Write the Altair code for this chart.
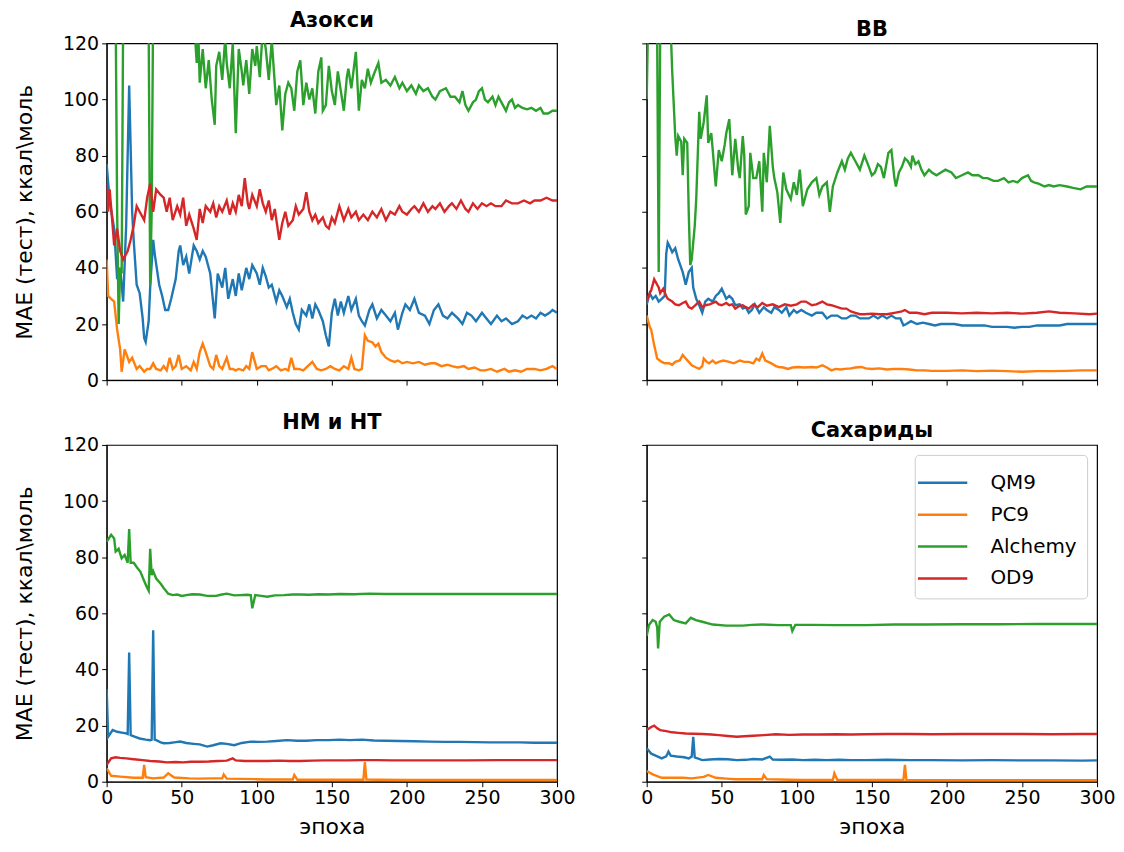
import altair as alt
import pandas as pd

SERIES = ["QM9", "PC9", "Alchemy", "OD9"]
COLORS = ["#1f77b4", "#ff7f0e", "#2ca02c", "#d62728"]
PANELS = ["Азокси", "BB", "НМ и НТ", "Сахариды"]
X_TICKS = [0, 50, 100, 150, 200, 250, 300]
Y_TICKS = [0, 20, 40, 60, 80, 100, 120]
X_TITLE = "эпоха"
Y_TITLE = "MAE (тест), ккал\\моль"

# ---------------- Азокси ----------------
AZ_QM9 = [(0,77),(2,64),(5,54),(7,36),(9,40),(11,28),(13,55),(15,105),(17,60),(18,50),(20,34),(22,31),(24,22),(25,15),(26,13.6),(28,21),(29,33),(31,50),(32,45),(35,34),(37,30),(39,25),(41,25),(43,29),(46,36),(48,46),(49,48),(51,41),(53,44),(55,38),(58,48),(60,46),(62,43),(64,46),(66,44),(69,38),(72,22),(74,38),(77,33),(79,40),(81,29),(84,36),(86,30),(88,38),(90,32),(93,40),(95,36),(97,41),(100,38),(102,34),(104,40),(106,37),(108,33),(110,34),(113,28),(115,32),(117,30),(120,26),(122,29),(124,24),(126,20),(128,18),(130,25),(133,23),(135,27),(137,22),(139,27),(141,25),(144,21),(146,16),(148,12),(150,24),(152,29),(154,23),(156,28),(158,24),(161,30),(163,25),(166,29),(168,23),(170,21),(172,19.5),(175,25),(177,27),(180,22),(183,25),(186,23),(189,21),(192,24),(194,18),(197,24),(199,27),(202,25),(205,29),(208,24),(212,23),(215,20),(218,25),(221,27),(224,23),(227,22),(230,24),(234,22),(237,20),(240,24),(243,23),(246,21),(250,24),(253,22),(256,20),(260,23),(263,21),(266,22),(270,20),(274,21),(277,23),(280,22),(283,23),(286,22),(289,24),(292,23),(295,24),(297,25),(300,24)]
AZ_PC9 = [(0,43),(1,30),(3,29),(5,28),(7,18),(9,11),(10,3),(12,11),(15,6.5),(17,8),(20,4),(22,5),(25,3),(27,4),(29,4),(31,6),(33,4),(36,3.5),(38,5),(40,3.5),(42,8),(44,4),(46,5),(48,9),(50,4),(53,5),(56,3.5),(58,6.5),(60,4),(62,10),(64,13),(66,10),(69,5),(71,4),(73,9),(75,5),(77,4),(80,8),(82,4),(84,4),(86,3.5),(88,4),(91,3.5),(93,5),(95,4),(97,10),(100,4),(103,5),(106,5),(108,3.5),(110,4),(113,5),(116,3.5),(119,4),(121,3.5),(123,8),(125,4),(128,4),(131,3.5),(134,5),(137,6.5),(140,4),(143,3.5),(146,4),(149,5),(152,4),(155,3.5),(158,5),(161,4),(163,8),(165,4),(168,3.5),(170,4),(172,16),(174,14),(177,13.5),(179,12),(181,13),(183,10),(186,8),(189,7),(192,6.5),(194,7),(197,6),(200,6.5),(204,6),(208,6.5),(212,5.5),(216,6),(219,6),(223,5),(227,5.5),(230,5),(234,4.5),(238,5),(241,4),(245,4.5),(249,3.5),(252,3.5),(256,4),(260,3),(265,4),(268,3),(272,3.5),(276,3),(280,4),(285,4),(289,3.5),(293,4),(297,5),(300,4)]
AZ_ALC = [(0,140),(3,135),(6,130),(7,60),(8,20),(9,40),(10,38),(11,130),(14,140),(18,135),(22,140),(26,130),(28,125),(29,34),(30,60),(31,135),(35,140),(40,138),(45,140),(50,135),(55,132),(58,130),(60,113),(61,125),(62,106),(64,118),(66,104),(68,114),(70,100),(72,91),(73,112),(75,117),(77,107),(79,122),(80,113),(82,104),(84,120),(86,88),(88,118),(90,110),(91,105),(93,114),(95,102),(97,118),(99,112),(100,119),(102,108),(104,125),(106,118),(108,107),(110,121),(113,98),(115,105),(117,89),(119,102),(121,106),(123,104),(125,96),(127,110),(129,114),(131,98),(133,106),(135,100),(137,104),(139,95),(141,110),(143,115),(144,96),(146,98),(148,112),(150,103),(152,98),(154,110),(156,103),(158,96),(160,108),(161,111),(163,104),(166,117),(168,96),(170,107),(172,104),(174,111),(176,106),(178,109),(181,113),(183,106),(186,107),(189,105),(192,108),(195,104),(197,106),(200,103),(203,105),(206,102),(208,105),(211,103),(214,104),(217,101),(219,100),(222,103),(226,104),(229,101),(232,101),(235,99),(237,103),(239,98),(241,96),(244,99),(246,100),(248,103),(250,104),(252,100),(254,99),(257,101),(259,98),(261,101),(263,99),(266,96),(268,99),(270,100),(272,97),(274,98),(277,97),(280,96.5),(283,97),(286,96),(289,97),(291,95),(294,95),(297,96),(300,96)]
AZ_OD9 = [(0,70),(1,60),(2,68),(4,55),(5,48),(7,54),(9,46),(11,43),(13,45),(14,46),(16,50),(18,55),(20,62),(22,60),(25,57),(27,65),(29,70),(31,60),(33,68),(36,66),(38,65),(40,60),(42,65),(44,57),(47,62),(49,59),(51,65),(53,55),(55,59),(58,54),(60,50),(62,61),(64,56),(66,62),(69,60),(71,63),(73,58),(75,62),(77,60),(80,64),(82,59),(84,63),(86,60),(88,66),(90,62),(92,72),(94,63),(95,61),(97,66),(100,62),(102,68),(104,63),(106,60),(108,64),(110,57),(112,61),(115,50),(117,56),(119,60),(121,55),(124,57),(126,62),(128,59),(131,61),(133,67),(135,60),(137,57),(139,59),(141,56),(144,58),(146,55),(148,54),(150,58),(152,56),(155,62),(158,57),(161,61),(163,58),(166,60),(168,57),(171,59),(174,57),(177,60),(180,58),(183,61),(186,57),(189,60),(192,59),(195,62),(197,60),(200,59),(203,61),(205,62),(208,60),(211,63),(214,60),(217,62),(219,61),(222,63),(225,60),(228,62),(230,63),(233,61),(236,64),(239,61),(241,60),(244,63),(247,61),(250,63),(253,62),(256,63),(259,62),(263,62),(266,64),(270,63),(274,63),(278,64),(282,63),(285,64),(289,64),(293,65),(297,64),(300,64)]

# ---------------- BB ----------------
BB_QM9 = [(0,27),(2,31),(4,29),(6,30),(8,28),(10,29),(12,30),(13,45),(14,49),(15,48),(17,45.6),(19,47),(21,43),(23,40),(24,38.5),(26,34),(28,38.5),(30,40),(31,33),(33,29),(35,26.7),(37,24),(39,28),(41,29),(44,28),(46,30),(48,31),(50,32.6),(53,29),(55,30),(57,29),(59,26.7),(62,27),(64,25.5),(66,26),(68,24),(70,25),(72,27),(75,24),(78,26),(80,25),(83,24),(85,26),(88,25),(90,24),(93,26),(95,23),(98,25),(100,24),(103,25),(106,24),(110,23),(113,24),(117,24),(120,22),(123,23),(127,23),(130,22),(133,22),(136,23),(139,23),(142,22),(145,22),(148,22),(151,23),(154,22),(157,23),(160,22),(163,23),(166,22),(169,22),(171,19.5),(173,20),(176,21),(180,20),(184,20.5),(188,20),(192,19.5),(196,20),(200,20),(205,20),(210,19.5),(215,19.5),(220,19.5),(225,19.5),(230,19),(235,19),(240,19),(245,18.7),(250,19),(255,19),(260,19.5),(265,19.5),(270,19.5),(275,19.5),(280,20),(285,20),(290,20),(295,20),(300,20)]
BB_PC9 = [(0,23),(2,19),(3,18),(5,12.4),(7,7.7),(10,6.5),(12,6),(15,6),(17,5.5),(19,6.5),(22,7),(24,9),(26,7.7),(28,6.5),(30,5.3),(33,4.5),(35,4),(37,5),(38,7.7),(40,6.5),(41.5,6),(44,7),(46,6),(48,6.5),(51,7),(55,6.5),(58,6),(62,7),(65,6.5),(68,6.5),(71,6),(73,7.7),(75,7),(77,9.5),(79,7),(81,6.5),(83,6),(86,5),(88,4.7),(91,4.5),(94,4),(97,4.5),(101,4.7),(105,4.5),(110,4.7),(113,4.5),(117,5.3),(120,4.5),(123,3.5),(126,4),(129,3.8),(132,4),(136,4.2),(139,4.5),(143,4.7),(146,4.2),(150,4),(155,4.2),(160,3.8),(165,4),(170,4),(175,3.8),(180,3.5),(185,3.5),(190,3.3),(200,3.3),(210,3.5),(220,3.2),(230,3.4),(240,3.2),(250,3),(260,3.2),(270,3.2),(280,3.3),(290,3.5),(300,3.5)]
BB_ALC = [(0,100),(1,130),(3,135),(5,130),(6,125),(7,120),(8,38.5),(9,125),(11,140),(13,135),(15,130),(16,125),(17,110),(19,87),(20,80),(21,87),(22,86),(23,85),(24,73),(25,86),(27,84.5),(28,60),(29,41),(30,43),(32,55),(33,64.5),(35,95.6),(36,86),(38,92),(40,101.5),(41,84.5),(43,88),(44,82),(46,69),(48,82),(50,78),(52,84),(53,88),(55,93),(57,73),(59,86),(61,75),(62,72),(64,87),(65,80),(66,59),(68,62),(69,81),(71,72),(73,72),(75,78),(77,60),(78,81),(80,70.5),(82,90.6),(84,76),(85,72),(87,67),(89,56),(91,74),(93,68),(96,64.5),(98,70.5),(100,66),(102,75),(104,62),(107,68),(110,70.5),(113,72),(115,66),(117,69),(120,70.5),(122,60),(124,69),(127,74),(130,78),(132,75),(134,79),(136,81),(139,78),(142,75),(145,80),(148,76),(150,73),(152,74),(154,77),(156,76),(158,72),(161,81),(163,82),(165,72),(166,69),(168,74),(170,76),(172,79),(174,78),(176,76),(177,80),(179,77),(181,78),(183,75),(185,73),(188,75),(190,74),(193,73),(196,74),(199,75),(203,74),(206,72),(210,73),(214,74),(217,73),(221,73),(224,72),(227,72),(231,71),(234,71),(238,72),(241,70.5),(244,71),(247,70.5),(250,72),(254,73),(256,71),(258,70.5),(261,70),(265,69),(268,69.5),(271,69),(275,69.5),(280,69),(284,68.5),(289,68),(293,69),(298,69),(300,69)]
BB_OD9 = [(0,28),(2,31),(3,32),(5,36),(7,34),(8,33),(9,31),(11,32.6),(13,30),(14,29),(17,28),(19,27),(21.5,26.7),(24,27.5),(26,28),(28,26),(30,25.5),(33,27),(35,28),(37,26),(39,26.7),(42,27),(46,28),(48,27),(50,26.7),(53,27.5),(55,26.7),(57,27),(59,25.5),(62,26.5),(64,26.7),(66,26),(68,25.5),(71,27),(74,26),(77,27.5),(80,26.5),(84,27),(88,26),(92,27),(96,26.5),(100,27),(103,28),(106,28),(110,26.7),(113,27),(117,28),(120,27),(123,26.7),(127,26),(130,25.5),(133,25.5),(136,24.5),(139,24),(142,23.5),(145,23.5),(150,23.7),(155,23.5),(160,23.5),(165,24),(170,24.5),(172,25),(175,24),(180,24),(185,23.5),(190,24),(200,24),(210,23.8),(220,24),(230,23.8),(240,24),(250,23.7),(260,24),(268,24.5),(275,24),(285,23.8),(295,23.5),(300,23.7)]

# ---------------- НМ и НТ ----------------
NM_QM9 = [(0,33),(1,16),(4,18.4),(7,17.8),(10,17.5),(13,17.2),(14,17),(15,46),(16,16.6),(19,16),(22,15.4),(26,15),(29,14.8),(30,15),(31,54),(32,15),(33,14.8),(36,14),(38,13.7),(42,13.8),(45,14),(49,14.3),(53,13.8),(58,13.5),(62,13.3),(67,12.5),(71,13),(76,13.7),(80,13.5),(85,13),(90,13.8),(96,14.3),(101,14.2),(107,14.3),(113,14.5),(120,14.8),(127,14.6),(133,14.6),(140,14.8),(148,14.8),(155,15),(162,14.8),(170,15),(178,14.7),(186,14.6),(195,14.5),(205,14.4),(215,14.3),(225,14.2),(235,14.2),(245,14.1),(255,14),(265,14),(275,14),(285,13.9),(295,13.9),(300,13.9)]
NM_PC9 = [(0,4.75),(3,2.1),(9,1.8),(18,1.4),(24,1.4),(25,6),(26,1.6),(31,1.2),(38,1.5),(41,3),(45,1.5),(55,1.2),(62,1.1),(70,1.2),(77,1.2),(78,2.6),(80,1.1),(90,1),(100,0.9),(106,0.8),(120,0.8),(124,0.8),(125,2.4),(127,0.7),(140,0.7),(150,0.7),(160,0.7),(171,0.7),(172,7),(173,0.8),(180,0.7),(200,0.6),(220,0.6),(240,0.6),(260,0.6),(280,0.6),(300,0.6)]
NM_ALC = [(0,85.5),(3,88),(5,86.7),(6,82),(8,83),(10,79.6),(12,80.8),(14,78),(15,90),(16,78),(18,78),(20,76.5),(22.5,74.8),(25,71.5),(27,69),(28,68),(29,83),(30,73.6),(31,75),(33,72.4),(36,70.5),(38,69),(41,67),(44,66.5),(47,66.7),(50,66.2),(53,66.5),(57,66.8),(62,66.7),(67,66.2),(73,66.2),(76,66.6),(80,67),(85,66.4),(89,66.5),(93,66.6),(96,66.5),(97,61.8),(99,66.5),(103,66.2),(107,65.9),(112,66.4),(118,66.5),(124,66.7),(129,66.7),(135,66.6),(141,66.8),(148,66.7),(155,66.9),(165,66.8),(175,67),(185,66.9),(200,66.9),(215,66.9),(230,66.9),(250,66.9),(270,66.9),(285,66.9),(300,66.9)]
NM_OD9 = [(0,6),(3,8.3),(6,8.7),(9,8.5),(13,8.3),(18,8),(24,7.7),(29,7.4),(35,7.2),(40,6.9),(46,7),(51,6.9),(56,7.1),(62,7.1),(68,7.2),(74,7.4),(80,7.5),(84,8.3),(86,7.6),(92,7.4),(100,7.4),(107,7.4),(115,7.5),(122,7.4),(129,7.4),(137,7.5),(145,7.6),(150,7.6),(160,7.6),(170,7.7),(180,7.7),(190,7.6),(200,7.6),(220,7.6),(240,7.6),(260,7.7),(280,7.7),(300,7.7)]

# ---------------- Сахариды ----------------
SA_QM9 = [(0,11.9),(3,10),(6,9.3),(10,8.3),(13,9),(14.5,10.7),(16,9.3),(20,9),(25,8.7),(28,8.3),(30,9),(31,16),(32,8.7),(37,7.7),(42,7.9),(48,8.1),(54,8),(60,7.7),(66,7.8),(71,8.1),(77,7.9),(82,8.9),(84,7.9),(90,7.8),(97,7.9),(104,7.7),(112,7.8),(120,7.7),(128,7.8),(136,7.7),(146,7.7),(160,7.8),(175,7.7),(190,7.7),(210,7.6),(230,7.7),(250,7.6),(270,7.6),(290,7.5),(300,7.6)]
SA_PC9 = [(0,3.8),(4,2.6),(10,1.4),(18,1.4),(24,1.4),(30,1.2),(38,1.7),(41,2.4),(46,1.4),(53,1.1),(59,0.9),(70,0.9),(77,0.9),(78,2.4),(80,0.9),(95,0.7),(104,0.6),(115,0.6),(124,0.6),(125,3),(127,0.6),(140,0.6),(155,0.6),(171,0.6),(172,6),(173,0.6),(190,0.5),(210,0.5),(230,0.5),(260,0.5),(300,0.5)]
SA_ALC = [(0,52),(1.5,55.8),(4,57.6),(6,57),(7,55),(7.6,47.5),(8.7,57),(11.6,58.8),(15,59.6),(18,57.6),(21.6,57),(26,56.4),(29.4,58.4),(32.7,57.6),(37,57),(44,56),(53,55.6),(64,55.6),(70,55.9),(77,56),(88,55.8),(96,55.8),(97,53.7),(99,55.9),(110,55.9),(126,55.8),(146,55.8),(165,56),(185,56),(210,56.1),(235,56.1),(260,56.2),(280,56.2),(300,56.2)]
SA_OD9 = [(0,18.4),(3,19.5),(5,20),(7,19),(9,18.4),(13,18),(17,17.6),(21,17.4),(26,17.2),(31,17.1),(37,17),(43,16.8),(48,16.6),(54,16.3),(60,16),(65,16.2),(71,16.4),(78,16.6),(86,16.9),(95,16.7),(104,16.8),(115,16.8),(126,16.9),(136,16.8),(146,16.9),(160,17),(175,17),(190,16.9),(210,17),(230,17),(250,17),(270,16.9),(290,17),(300,17)]

PANEL_DATA = {
    "Азокси": [AZ_QM9, AZ_PC9, AZ_ALC, AZ_OD9],
    "BB": [BB_QM9, BB_PC9, BB_ALC, BB_OD9],
    "НМ и НТ": [NM_QM9, NM_PC9, NM_ALC, NM_OD9],
    "Сахариды": [SA_QM9, SA_PC9, SA_ALC, SA_OD9],
}

FONT = "DejaVu Sans"
W, H = 452, 338
FS = 19      # tick labels
TFS = 22     # axis titles
LFS = 20     # legend labels


def panel_df(name):
    rows = []
    for si, (s, pts) in enumerate(zip(SERIES, PANEL_DATA[name])):
        for e, v in pts:
            rows.append({"series": s, "sidx": si, "epoch": e, "value": v})
    return pd.DataFrame(rows)


def make_panel(name, bottom, left, legend):
    x_axis = dict(values=X_TICKS, grid=False, labels=bottom, tickSize=5,
                  labelFontSize=FS, titleFontSize=TFS, labelFlush=False,
                  labelPadding=2, domainColor="black", tickColor="black",
                  labelColor="black", titleColor="black",
                  titleFontWeight="normal", titlePadding=9)
    x_axis["title"] = X_TITLE if bottom else None
    y_axis = dict(values=Y_TICKS, grid=False, labels=left, tickSize=5,
                  labelFontSize=FS, titleFontSize=TFS, labelFlush=False,
                  labelPadding=3, domainColor="black", tickColor="black",
                  labelColor="black", titleColor="black",
                  titleFontWeight="normal", titlePadding=26)
    y_axis["title"] = Y_TITLE if left else None
    if legend:
        leg = alt.Legend(title=None, orient="top-right", offset=10,
                         symbolType="M-1.5,0H1.5", symbolStrokeWidth=2.5,
                         symbolSize=1089, labelFontSize=LFS, labelFont=FONT,
                         labelColor="black", padding=10, rowPadding=4,
                         strokeColor="#cccccc", fillColor="white",
                         cornerRadius=4, labelOffset=30)
    else:
        leg = None
    ch = alt.Chart(panel_df(name)).mark_line(clip=True, strokeWidth=2.4).encode(
        x=alt.X("epoch:Q", scale=alt.Scale(domain=[0, 300], nice=False),
                axis=alt.Axis(**x_axis)),
        y=alt.Y("value:Q", scale=alt.Scale(domain=[0, 120], nice=False),
                axis=alt.Axis(**y_axis)),
        color=alt.Color("series:N", scale=alt.Scale(domain=SERIES, range=COLORS),
                        sort=SERIES, legend=leg),
        detail="sidx:O",
    ).properties(
        width=W, height=H,
        title=alt.TitleParams(name, fontSize=21, fontWeight="bold", font=FONT,
                              anchor="middle", offset=3, color="black"),
    )
    return ch


chart = alt.concat(
    make_panel(PANELS[0], False, True, False),
    make_panel(PANELS[1], False, False, False),
    make_panel(PANELS[2], True, True, False),
    make_panel(PANELS[3], True, False, True),
    columns=2,
    spacing=alt.RowColnumber(row=20, column=64),
).resolve_legend(
    color="independent"
).properties(
    padding={"top": 0, "bottom": 0, "left": 5, "right": 0}
).configure(font=FONT).configure_view(stroke="black", strokeWidth=1.2)

chart.save("out.html", embed_options={"renderer": "svg", "actions": False})
